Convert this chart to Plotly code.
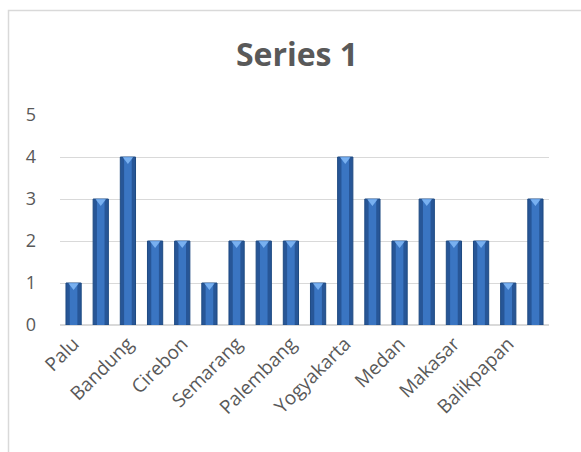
import plotly.graph_objects as go

categories = ["Palu", "Jakarta", "Bandung", "Bogor", "Cirebon", "Tegal",
              "Semarang", "Surabaya", "Palembang", "Padang", "Yogyakarta", "Solo",
              "Medan", "Manado", "Makasar", "Denpasar", "Balikpapan", "Pontianak"]
values = [1, 3, 4, 2, 2, 1, 2, 2, 2, 1, 4, 3, 2, 3, 2, 2, 1, 3]
shown_labels = categories[::2]
title_text = "Series 1"

W, H = 581, 452
L, R, T, B = 60, 32, 115, 127
pw, ph = W - L - R, H - T - B

fig = go.Figure()
fig.add_trace(go.Bar(x=categories, y=values, width=0.56,
                     marker=dict(color="#275697", line=dict(color="#1E4A82", width=1)),
                     hoverinfo="skip"))
fig.add_trace(go.Bar(x=categories, y=values, width=0.28,
                     marker=dict(color="#3A75C2", line=dict(width=0)),
                     hoverinfo="skip"))
fig.add_trace(go.Scatter(x=categories, y=[v - 0.06 for v in values], mode="markers",
                         marker=dict(symbol="triangle-down", size=9, color="#78B0F0",
                                     line=dict(width=0)),
                         hoverinfo="skip"))

grey = "#595959"
fig.update_layout(
    width=W, height=H,
    margin=dict(l=L, r=R, t=T, b=B, autoexpand=False),
    paper_bgcolor="white", plot_bgcolor="white",
    barmode="overlay", showlegend=False,
    title=dict(text="<b>" + title_text + "</b>", x=297 / W, xanchor="center",
               y=1 - 55 / H, yanchor="middle",
               font=dict(family="Open Sans", size=32, color=grey)),
    font=dict(family="Open Sans", color=grey),
    xaxis=dict(type="category", tickmode="array", tickvals=shown_labels, ticktext=shown_labels,
               tickangle=-45, tickfont=dict(size=19, color=grey), showgrid=False,
               showline=False, ticks="", range=[-0.5, len(categories) - 0.5],
               automargin=False, ticklabelstandoff=3),
    yaxis=dict(range=[0, 5], dtick=1, tickfont=dict(size=18, color=grey),
               gridcolor="#D9D9D9", gridwidth=1, zeroline=True, zerolinecolor="#D9D9D9",
               zerolinewidth=2, showline=False, ticks="", ticklabelstandoff=23,
               automargin=False),
    shapes=[dict(type="rect", xref="paper", yref="paper",
                 x0=(8.5 - L) / pw, x1=(W + 10 - L) / pw,
                 y0=(H - B - (H + 10)) / ph, y1=(H - B - 10.5) / ph,
                 line=dict(color="#D9D9D9", width=1.5), layer="below")],
)

fig.write_html("out.html")
